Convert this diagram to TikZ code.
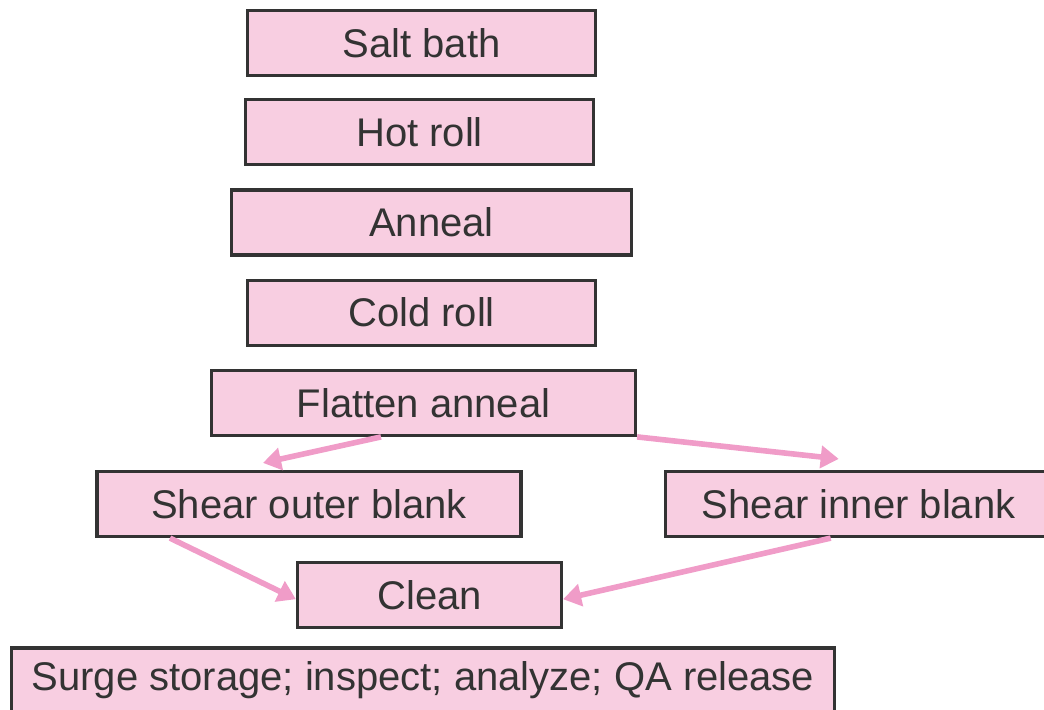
\documentclass[tikz,border=0pt]{standalone}
\usepackage{fontspec}
\setmainfont{Liberation Sans}
\usetikzlibrary{positioning,arrows.meta}

\definecolor{boxpink}{RGB}{248,206,225}
\definecolor{arrowpink}{RGB}{240,156,200}
\definecolor{inkgray}{RGB}{51,51,51}

\tikzset{
  process/.style={draw=inkgray, line width=1.6pt, fill=boxpink, text=inkgray,
    minimum height=32.5pt, inner sep=0pt, font=\fontsize{20}{24}\selectfont},
  flow/.style={draw=arrowpink, line width=2.8pt, -{Triangle[length=9pt,width=11pt]}}
}

\begin{document}
\begin{tikzpicture}
            \useasboundingbox (0,0) rectangle (522pt,-354.5pt);

            \node[process, minimum width=174pt] (salt) at (210.75pt,-21.5pt) {Salt bath};
            \node[process, minimum width=174pt, below=10.5pt of salt, xshift=-1pt] (hotroll) {Hot roll};
            \node[process, minimum width=200pt, below=11pt of hotroll, xshift=6pt] (anneal) {Anneal};
            \node[process, minimum width=174pt, below=11pt of anneal, xshift=-5pt] (coldroll) {Cold roll};
            \node[process, minimum width=212pt, below=11pt of coldroll, xshift=1pt] (flatten) {Flatten anneal};

            \node[process, minimum width=212pt, below=16.5pt of flatten, xshift=-57.25pt] (outer) {Shear outer blank};
            \node[process, minimum width=193.5pt, right=70.5pt of outer] (inner) {Shear inner blank};

            \node[process, minimum width=132pt, below=11.5pt of outer, xshift=60.25pt] (clean) {Clean};
            \node[process, minimum width=411.5pt, below=8.5pt of clean, xshift=-3.25pt] (surge)
            {Surge storage; inspect; analyze; QA release};

            % split and merge
            \draw[flow] ([xshift=-21.25pt]flatten.south) -- ([xshift=-23pt,yshift=3.5pt]outer.north);
            \draw[flow] (flatten.south east) -- ([xshift=-10pt,yshift=5.5pt]inner.north);
            \draw[flow] ([xshift=-69.5pt]outer.south) -- ([yshift=-2pt]clean.west);
            \draw[flow] ([xshift=-14pt]inner.south) -- ([yshift=-2pt]clean.east);
        \end{tikzpicture}
\end{document}
